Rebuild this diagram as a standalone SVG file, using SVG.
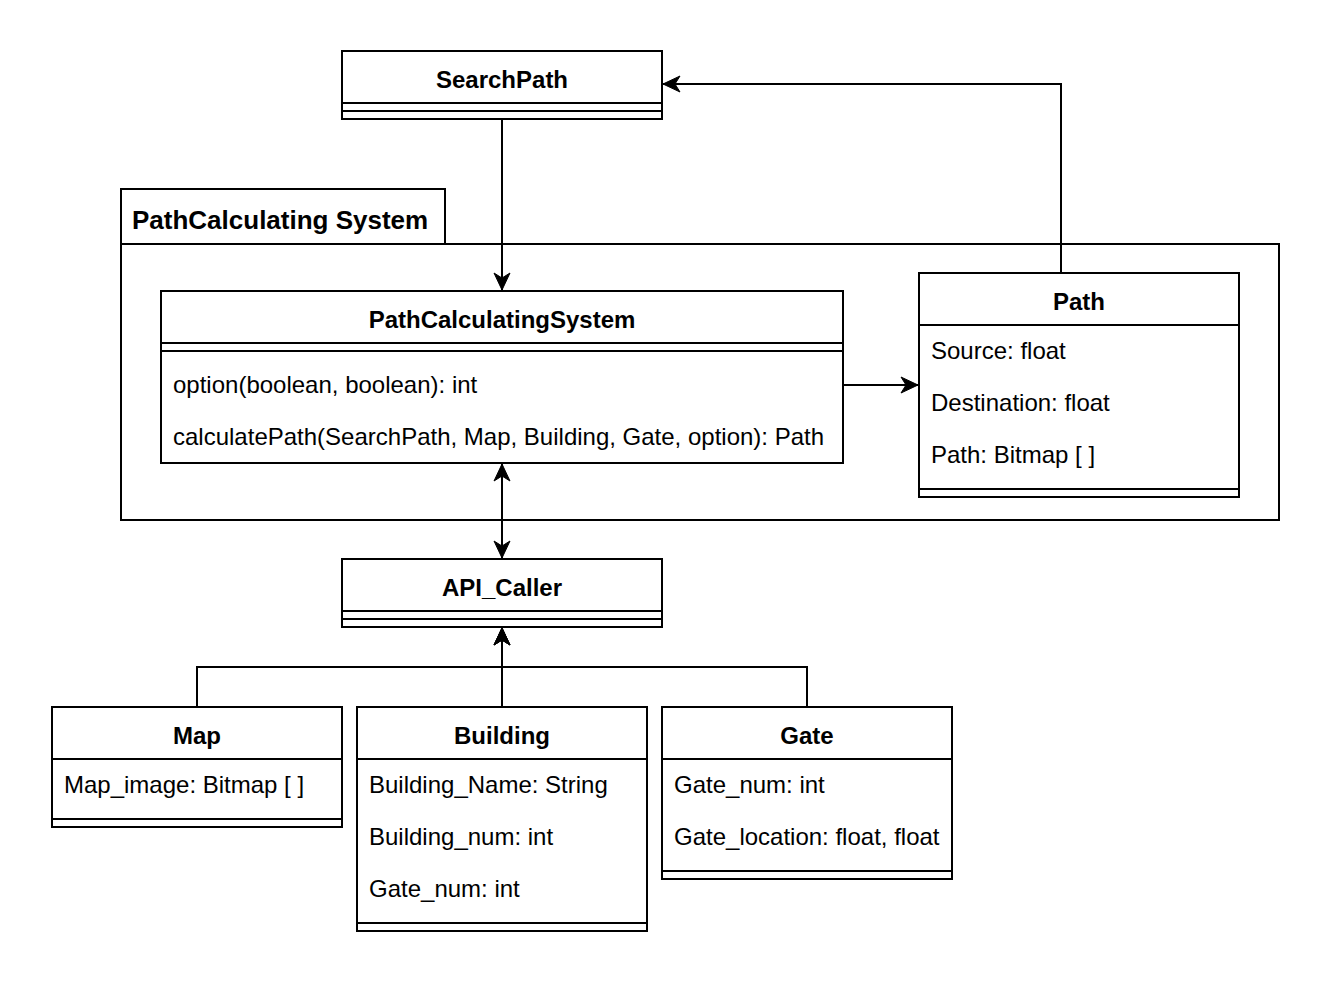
<svg xmlns="http://www.w3.org/2000/svg" width="1330" height="982" viewBox="0 0 1330 982">
  <style>
    .box { fill: #ffffff; stroke: #000000; stroke-width: 2; }
    .ln { fill: none; stroke: #000000; stroke-width: 2; }
    .title { font-family: "Liberation Sans", Arial, Helvetica, sans-serif; font-size: 24px; font-weight: bold; fill: #000000; text-anchor: middle; }
    .attr { font-family: "Liberation Sans", Arial, Helvetica, sans-serif; font-size: 24px; fill: #000000; }
    .pkg { font-family: "Liberation Sans", Arial, Helvetica, sans-serif; font-size: 26px; font-weight: bold; fill: #000000; }
    .edge { fill: none; stroke: #000000; stroke-width: 2; }
  </style>
  <defs>
    <marker id="arrow" viewBox="-18 -9 20 18" refX="0" refY="0" markerWidth="20" markerHeight="18" markerUnits="userSpaceOnUse" orient="auto-start-reverse">
      <path d="M0,0 L-17,-8 L-12,0 L-17,8 Z" fill="#000000" stroke="#000000" stroke-width="1"/>
    </marker>
  </defs>

  <rect width="1330" height="982" fill="#ffffff"/>

  <!-- package frame -->
  <g id="package">
    <rect class="box" x="121" y="189" width="324" height="55"/>
    <rect class="box" x="121" y="244" width="1158" height="276"/>
    <text class="pkg" x="132" y="229">PathCalculating System</text>
  </g>

  <!-- SearchPath -->
  <g id="searchpath">
    <rect class="box" x="342" y="51" width="320" height="68"/>
    <line class="ln" x1="342" y1="103" x2="662" y2="103"/>
    <line class="ln" x1="342" y1="111" x2="662" y2="111"/>
    <text class="title" x="502" y="88">SearchPath</text>
  </g>

  <!-- PathCalculatingSystem -->
  <g id="pathcalculatingsystem">
    <rect class="box" x="161" y="291" width="682" height="172"/>
    <line class="ln" x1="161" y1="343" x2="843" y2="343"/>
    <line class="ln" x1="161" y1="351" x2="843" y2="351"/>
    <text class="title" x="502" y="328">PathCalculatingSystem</text>
    <text class="attr" x="173" y="393">option(boolean, boolean): int</text>
    <text class="attr" x="173" y="445">calculatePath(SearchPath, Map, Building, Gate, option): Path</text>
  </g>

  <!-- Path -->
  <g id="path">
    <rect class="box" x="919" y="273" width="320" height="224"/>
    <line class="ln" x1="919" y1="325" x2="1239" y2="325"/>
    <line class="ln" x1="919" y1="489" x2="1239" y2="489"/>
    <text class="title" x="1079" y="310">Path</text>
    <text class="attr" x="931" y="359">Source: float</text>
    <text class="attr" x="931" y="411">Destination: float</text>
    <text class="attr" x="931" y="463">Path: Bitmap [ ]</text>
  </g>

  <!-- API_Caller -->
  <g id="api_caller">
    <rect class="box" x="342" y="559" width="320" height="68"/>
    <line class="ln" x1="342" y1="611" x2="662" y2="611"/>
    <line class="ln" x1="342" y1="619" x2="662" y2="619"/>
    <text class="title" x="502" y="596">API_Caller</text>
  </g>

  <!-- Map -->
  <g id="map">
    <rect class="box" x="52" y="707" width="290" height="120"/>
    <line class="ln" x1="52" y1="759" x2="342" y2="759"/>
    <line class="ln" x1="52" y1="819" x2="342" y2="819"/>
    <text class="title" x="197" y="744">Map</text>
    <text class="attr" x="64" y="793">Map_image: Bitmap [ ]</text>
  </g>

  <!-- Building -->
  <g id="building">
    <rect class="box" x="357" y="707" width="290" height="224"/>
    <line class="ln" x1="357" y1="759" x2="647" y2="759"/>
    <line class="ln" x1="357" y1="923" x2="647" y2="923"/>
    <text class="title" x="502" y="744">Building</text>
    <text class="attr" x="369" y="793">Building_Name: String</text>
    <text class="attr" x="369" y="845">Building_num: int</text>
    <text class="attr" x="369" y="897">Gate_num: int</text>
  </g>

  <!-- Gate -->
  <g id="gate">
    <rect class="box" x="662" y="707" width="290" height="172"/>
    <line class="ln" x1="662" y1="759" x2="952" y2="759"/>
    <line class="ln" x1="662" y1="871" x2="952" y2="871"/>
    <text class="title" x="807" y="744">Gate</text>
    <text class="attr" x="674" y="793">Gate_num: int</text>
    <text class="attr" x="674" y="845">Gate_location: float, float</text>
  </g>

  <!-- connectors -->
  <g id="connectors">
    <path class="edge" d="M502,119 L502,290" marker-end="url(#arrow)"/>
    <path class="edge" d="M1061,273 L1061,84 L663,84" marker-end="url(#arrow)"/>
    <path class="edge" d="M843,385 L918,385" marker-end="url(#arrow)"/>
    <path class="edge" d="M502,464 L502,558" marker-start="url(#arrow)" marker-end="url(#arrow)"/>
    <path class="edge" d="M197,707 L197,667 L502,667 L502,628" marker-end="url(#arrow)"/>
    <path class="edge" d="M502,707 L502,628" marker-end="url(#arrow)"/>
    <path class="edge" d="M807,707 L807,667 L502,667 L502,628" marker-end="url(#arrow)"/>
  </g>
</svg>
